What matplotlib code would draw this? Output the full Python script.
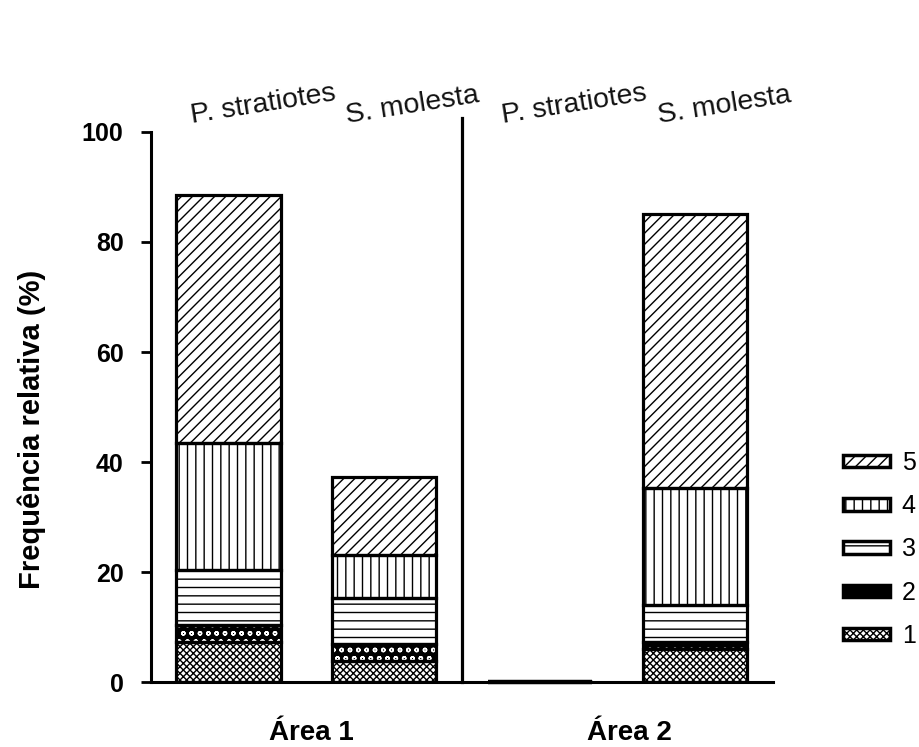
import matplotlib
matplotlib.use("Agg")
import matplotlib.pyplot as plt
from matplotlib.patches import Patch
import numpy as np

plt.rcParams['font.family'] = ['Liberation Sans', 'DejaVu Sans']
plt.rcParams['hatch.linewidth'] = 1.0

# Stacked relative frequencies (%) per class, for each species within each area
species = ["P. stratiotes", "S. molesta", "P. stratiotes", "S. molesta"]
areas = ["Área 1", "Área 2"]
classes = ["1", "2", "3", "4", "5"]
class_1 = [7.3, 3.9, 0.0, 6.0]
class_2 = [3.0, 3.1, 0.0, 1.3]
class_3 = [10.0, 8.2, 0.0, 6.7]
class_4 = [23.1, 7.9, 0.0, 21.2]
class_5 = [45.1, 14.1, 0.0, 49.8]
yticks = [0, 20, 40, 60, 80, 100]

layers = [class_1, class_2, class_3, class_4, class_5]
styles = [
    dict(facecolor="white", hatch="xxxxx", hatch_color="black"),
    dict(facecolor="black", hatch="oo", hatch_color="white"),
    dict(facecolor="white", hatch="--", hatch_color="black"),
    dict(facecolor="white", hatch="||", hatch_color="black"),
    dict(facecolor="white", hatch="///", hatch_color="black"),
]

fig = plt.figure(figsize=(9.2, 7.47), dpi=100)
ax = fig.add_axes([0.1638, 0.0870, 0.6764, 0.7363])

x = np.arange(len(species))
width = 0.67
bottom = np.zeros(len(species))
for vals, st in zip(layers, styles):
    vals = np.array(vals)
    # hatch drawn in its own colour, then a black outline on top
    ax.bar(x, vals, width, bottom=bottom, color=st["facecolor"],
           edgecolor=st["hatch_color"], hatch=st["hatch"], linewidth=0, zorder=2)
    ax.bar(x, vals, width, bottom=bottom, fill=False,
           edgecolor="black", linewidth=2.3, zorder=3)
    bottom += vals

# empty bars show only as a heavy line on the baseline
totals = bottom
for xi, tot in zip(x, totals):
    if tot == 0:
        ax.plot([xi - width / 2, xi + width / 2], [0, 0], color="black",
                linewidth=3.2, solid_capstyle="butt", clip_on=False, zorder=4)

ax.set_xlim(-0.5, 3.5)
ax.set_ylim(0, 100)
ax.set_yticks(yticks)
ax.set_yticklabels([str(v) for v in yticks], fontsize=18, fontweight="bold")
ax.tick_params(axis="y", direction="out", length=7.5, width=2, pad=12)
ax.set_xticks([])
for side in ("top", "right"):
    ax.spines[side].set_visible(False)
for side in ("left", "bottom"):
    ax.spines[side].set_linewidth(2.2)

# separator between the two areas
ax.plot([1.5, 1.5], [0, 102.6], color="black", linewidth=2.3, clip_on=False, zorder=4)

# species names above the bars
for xi, name in zip(x, species):
    ax.text(xi - width / 2 + 0.1, 101.6, name, fontsize=20.5, rotation=9,
            rotation_mode="anchor", ha="left", va="baseline", clip_on=False,
            color="#111111")

# area names below each pair of bars
for xc, name in zip([0.535, 2.58], areas):
    ax.text(xc, -9.3, name, fontsize=20, fontweight="bold", ha="center",
            va="center", clip_on=False)

ax.set_ylabel("Frequência relativa (%)", fontsize=21, fontweight="bold")
ax.yaxis.set_label_coords(-0.168, 0.46)

handles = []
for st in reversed(styles):
    handles.append(Patch(facecolor=st["facecolor"], edgecolor="black",
                         hatch=st["hatch"], linewidth=2.5))
leg = fig.legend(handles, list(reversed(classes)), loc="upper left",
                 bbox_to_anchor=(843 / 920, 1 - 451 / 747), frameon=False,
                 fontsize=18, handlelength=1.9, handleheight=0.4,
                 handletextpad=0.45, labelspacing=0.77, borderpad=0,
                 borderaxespad=0)

fig.savefig("out.png", dpi=100)
